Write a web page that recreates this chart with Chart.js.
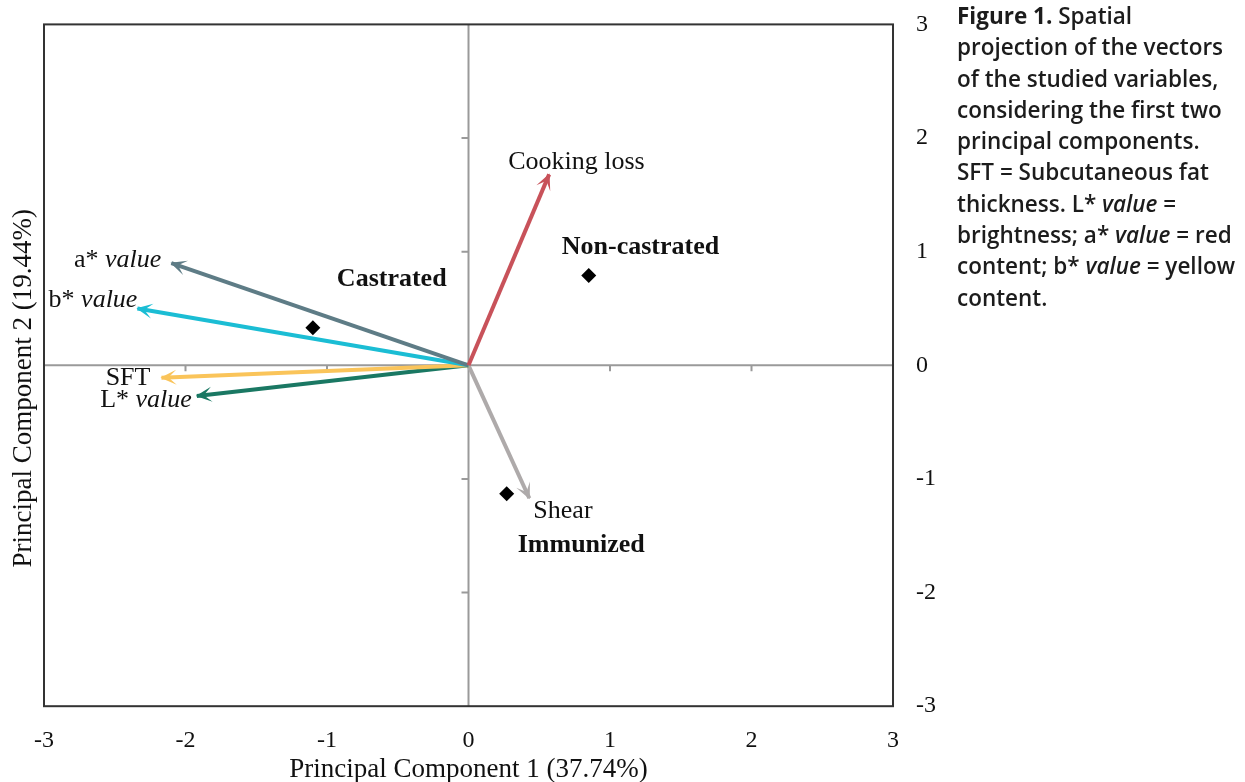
<!DOCTYPE html>
<html>
<head>
  <title>PCA biplot</title>
  <script src="https://cdn.jsdelivr.net/npm/chart.js"></script>
  <style>
    body { margin: 0; background: #fff; overflow: hidden; }
    #wrap { position: absolute; left: 0; top: -13px; width: 1245px; height: 795px; }
    .caption {
      position: absolute; left: 957px; top: 0px;
      font-family: 'Open Sans'; font-weight: 600; font-size: 22.5px; line-height: 31.3px; color: #1c1c1c;
      white-space: nowrap;
    }
    .caption b { font-weight: 700; }
  </style>
</head>
<body>

<div id="wrap"><canvas id="pca" width="1245" height="795"></canvas></div>
<div class="caption">
  <b>Figure 1.</b> Spatial<br>
  projection of the vectors<br>
  of the studied variables,<br>
  considering the first two<br>
  principal components.<br>
  SFT = Subcutaneous fat<br>
  thickness. L* <i>value</i> =<br>
  brightness; a* <i>value</i> = red<br>
  content; b* <i>value</i> = yellow<br>
  content.
</div>

<script>
// variable vectors (loadings)
const vectorNames = ["Cooking loss", "a*", "b*", "SFT", "L*", "Shear"];
const vectorItalic = ["", "value", "value", "", "value", ""];
const vectorX = [0.57, -2.10, -2.34, -2.17, -1.92, 0.43];
const vectorY = [1.68, 0.90, 0.50, -0.11, -0.27, -1.17];

// treatment groups (scores)
const groupNames = ["Castrated", "Non-castrated", "Immunized"];
const groupX = [-1.10, 0.85, 0.27];
const groupY = [0.33, 0.79, -1.13];

const tickValues = [-3, -2, -1, 0, 1, 2, 3];
const axisTitleX = "Principal Component 1 (37.74%)";
const axisTitleY = "Principal Component 2 (19.44%)";

// styles
const vectorColors = ["#c8525a", "#5e7c86", "#1bbdd4", "#fac45a", "#1a7863", "#aeaaaa"];
// label placement relative to the arrow tip: [dx, dy, align]
const vectorLabelPos = [[-41, -12, "left"], [-10, -3, "right"], [0, -8, "right"],
                        [-11, 0, "right"], [-5, 4, "right"], [4, 13, "left"]];
const groupLabelPos = [[24, -49], [-27, -28], [11, 52]];

const serif = "'Liberation Serif', 'Times New Roman', serif";

const datasets = vectorNames.map((n, i) => ({
  type: 'line',
  label: n,
  data: [{x: 0, y: 0}, {x: vectorX[i], y: vectorY[i]}],
  borderColor: vectorColors[i],
  borderWidth: 4,
  pointRadius: 0,
  fill: false
}));
datasets.push({
  type: 'scatter',
  label: 'groups',
  data: groupX.map((x, i) => ({x: x, y: groupY[i]})),
  pointStyle: 'rectRot',
  pointRadius: 7.5,
  backgroundColor: '#000',
  borderColor: '#000',
  borderWidth: 0
});

const biplotDecor = {
  id: 'biplotDecor',
  beforeDatasetsDraw(chart) {
    const ctx = chart.ctx, a = chart.chartArea;
    const xs = chart.scales.x, ys = chart.scales.y;
    const x0 = xs.getPixelForValue(0), y0 = ys.getPixelForValue(0);
    ctx.save();
    // zero axes
    ctx.strokeStyle = '#9a9a9a';
    ctx.lineWidth = 2;
    ctx.beginPath();
    ctx.moveTo(a.left, y0); ctx.lineTo(a.right, y0);
    ctx.moveTo(x0, a.top); ctx.lineTo(x0, a.bottom);
    for (const v of tickValues) {
      if (v === 0 || Math.abs(v) === 3) continue;
      const px = xs.getPixelForValue(v);
      ctx.moveTo(px, y0); ctx.lineTo(px, y0 + 6);
      const py = ys.getPixelForValue(v);
      ctx.moveTo(x0, py); ctx.lineTo(x0 - 7, py);
    }
    ctx.stroke();
    // frame
    ctx.strokeStyle = '#333';
    ctx.lineWidth = 2;
    ctx.strokeRect(a.left, a.top, a.right - a.left, a.bottom - a.top);
    ctx.restore();
  },
  afterDatasetsDraw(chart) {
    const ctx = chart.ctx, a = chart.chartArea;
    ctx.save();
    // arrow heads and vector labels
    vectorNames.forEach((name, i) => {
      const pts = chart.getDatasetMeta(i).data;
      const ox = pts[0].x, oy = pts[0].y, tx = pts[1].x, ty = pts[1].y;
      const ang = Math.atan2(ty - oy, tx - ox);
      const L = 15, W = 7.5, N = 7;
      ctx.save();
      ctx.translate(tx, ty);
      ctx.rotate(ang);
      ctx.fillStyle = vectorColors[i];
      ctx.beginPath();
      ctx.moveTo(1, 0);
      ctx.lineTo(-L, -W);
      ctx.lineTo(-N, 0);
      ctx.lineTo(-L, W);
      ctx.closePath();
      ctx.fill();
      ctx.restore();

      const [dx, dy, align] = vectorLabelPos[i];
      ctx.fillStyle = '#111';
      ctx.textBaseline = 'middle';
      ctx.textAlign = 'left';
      const normal = '26px ' + serif, italic = 'italic 26px ' + serif;
      const head = vectorItalic[i] ? name + ' ' : name;
      ctx.font = normal;
      const w1 = ctx.measureText(head).width;
      ctx.font = italic;
      const w2 = vectorItalic[i] ? ctx.measureText(vectorItalic[i]).width : 0;
      let lx = tx + dx;
      if (align === 'right') lx -= (w1 + w2);
      ctx.font = normal;
      ctx.fillText(head, lx, ty + dy);
      if (vectorItalic[i]) {
        ctx.font = italic;
        ctx.fillText(vectorItalic[i], lx + w1, ty + dy);
      }
    });
    // group labels
    const gpts = chart.getDatasetMeta(vectorNames.length).data;
    ctx.font = 'bold 26px ' + serif;
    ctx.fillStyle = '#111';
    ctx.textAlign = 'left';
    ctx.textBaseline = 'middle';
    groupNames.forEach((g, i) => {
      ctx.fillText(g, gpts[i].x + groupLabelPos[i][0], gpts[i].y + groupLabelPos[i][1]);
    });
    // axis titles
    ctx.font = '27px ' + serif;
    ctx.textAlign = 'center';
    ctx.fillText(axisTitleX, (a.left + a.right) / 2, a.bottom + 64);
    ctx.translate(24, (a.top + a.bottom) / 2 + 23);
    ctx.rotate(-Math.PI / 2);
    ctx.fillText(axisTitleY, 0, 0);
    ctx.restore();
  }
};

new Chart(document.getElementById('pca'), {
  data: { datasets: datasets },
  options: {
    responsive: false,
    animation: false,
    layout: { padding: { left: 44, top: 11, right: 286, bottom: 7 } },
    plugins: { legend: { display: false }, tooltip: { enabled: false } },
    scales: {
      x: {
        type: 'linear', position: 'bottom', min: -3, max: 3,
        afterBuildTicks: s => { s.ticks = tickValues.map(v => ({value: v})); },
        ticks: { font: { family: serif, size: 24 }, color: '#111', padding: 20 },
        grid: { display: false, drawTicks: false },
        border: { display: false }
      },
      y: {
        type: 'linear', position: 'right', min: -3, max: 3,
        afterBuildTicks: s => { s.ticks = tickValues.map(v => ({value: v})); },
        ticks: { font: { family: serif, size: 24 }, color: '#111', padding: 23 },
        grid: { display: false, drawTicks: false },
        border: { display: false }
      }
    }
  },
  plugins: [biplotDecor]
});
</script>
</body>
</html>
